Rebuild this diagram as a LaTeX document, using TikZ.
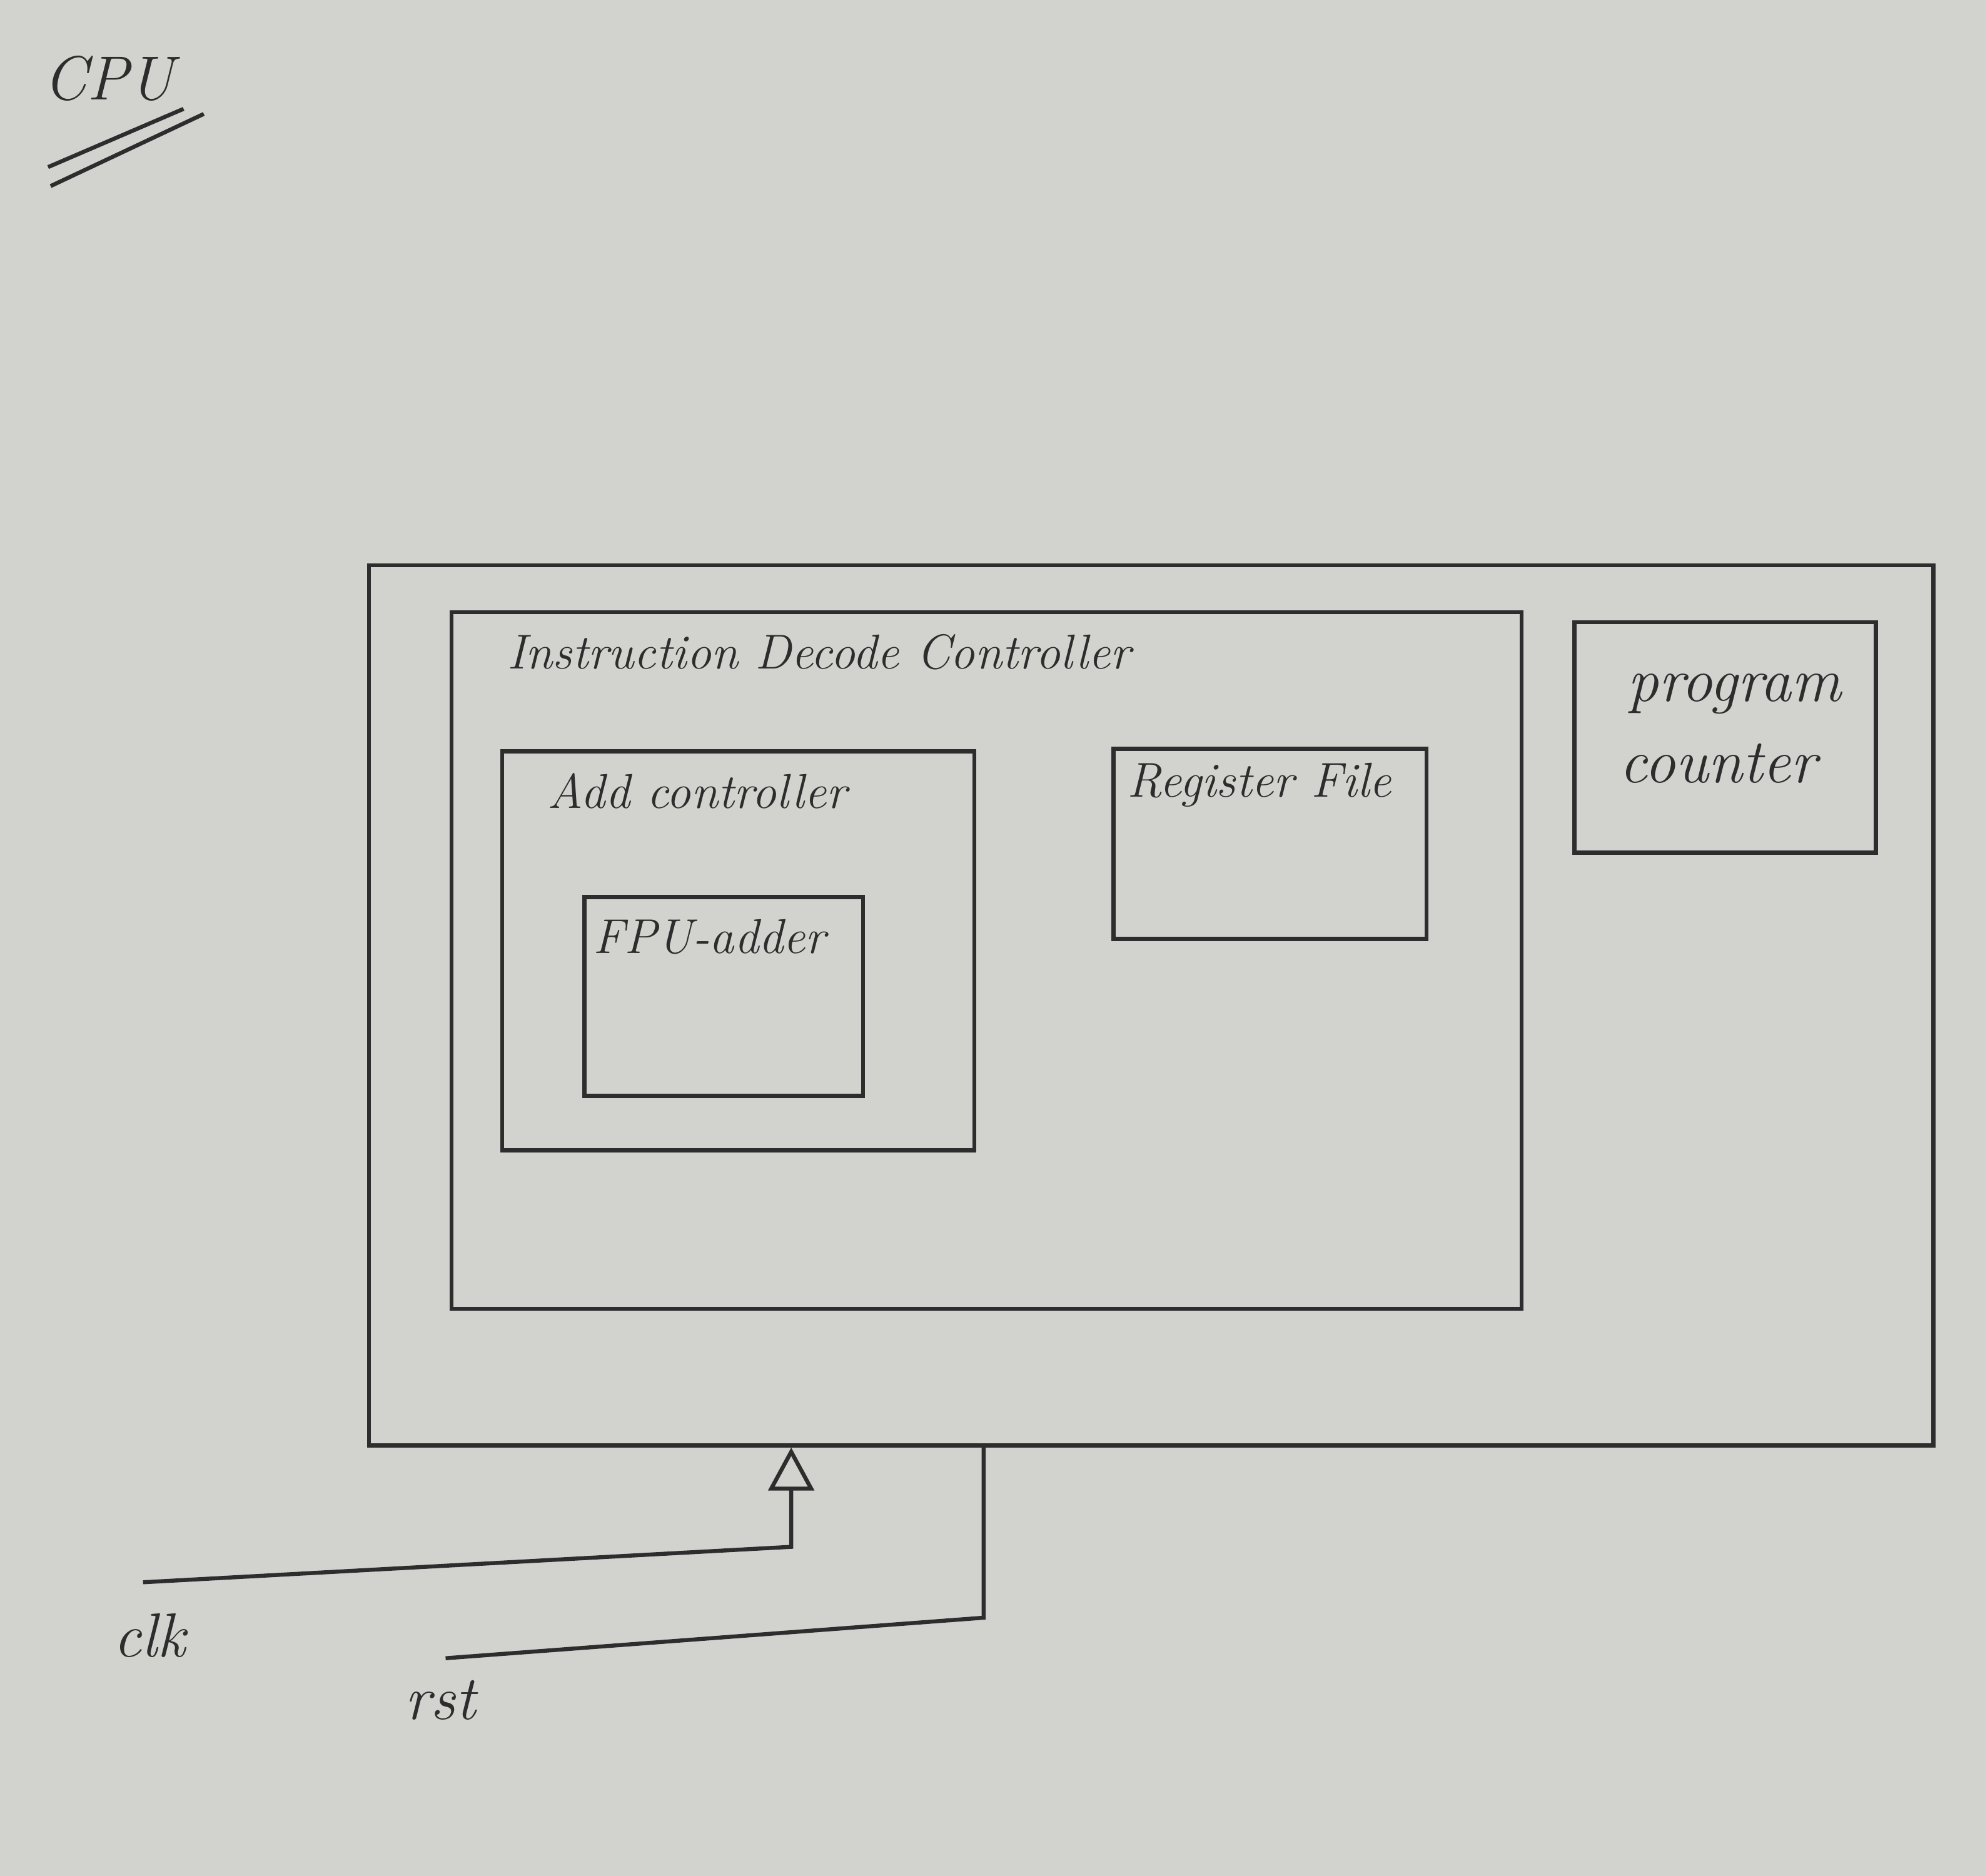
\documentclass[tikz,border=0pt]{standalone}
\usetikzlibrary{arrows.meta}
\definecolor{paper}{RGB}{210,210,207}
\definecolor{ink}{RGB}{45,45,45}
\tikzset{
  box/.style={draw=ink, line width=0.9pt, rectangle, anchor=north west, inner sep=0pt},
  lbl/.style={anchor=west, text=ink, inner sep=0pt, font=\fontsize{11}{13}\selectfont\itshape},
  big/.style={font=\fontsize{14}{16}\selectfont\itshape},
  wire/.style={draw=ink, line width=0.9pt}
}
\begin{document}
\begin{tikzpicture}[x=0.01cm, y=-0.01cm]
	\fill[paper] (0,0) rectangle (1568,1482);
	\useasboundingbox (0,0) rectangle (1568,1482);
	\node[lbl, big, anchor=center] (cputitle) at (86,62) {CPU};
	\draw[wire] (38,132) -- (145,86);
	\draw[wire] (40,147) -- (161,90);
	\node[box, minimum width=12.35cm, minimum height=6.95cm] (cpu) at (290,445) {};
	\node[box, minimum width=8.45cm, minimum height=5.5cm] (idc) at (355,482) {};
	\node[box, minimum width=3.73cm, minimum height=3.15cm] (add) at (395,592) {};
	\node[box, minimum width=2.2cm, minimum height=1.57cm] (fpu) at (460,707) {};
	\node[box, minimum width=2.47cm, minimum height=1.5cm] (reg) at (878,590) {};
	\node[box, minimum width=2.38cm, minimum height=1.82cm] (pc) at (1242,490) {};
	\node[lbl] (idclbl) at (400,515) {Instruction Decode Controller};
	\node[lbl] (addlbl) at (432,625) {Add controller};
	\node[lbl] (fpulbl) at (468,740) {FPU-adder};
	\node[lbl] (reglbl) at (890,620) {Register File};
	\node[lbl, big, anchor=center] (pclbl1) at (1370,548) {program};
	\node[lbl, big, anchor=center] (pclbl2) at (1357,603) {counter};
	\coordinate (clkin) at (113,1250);
	\coordinate (clkbend) at (625,1222);
	\coordinate (rstin) at (352,1310);
	\coordinate (rstbend) at (777,1278);
	\draw[wire, -{Triangle[open, length=0.34cm, width=0.36cm]}] (clkin) -- (clkbend) -- (clkbend |- cpu.south);
	\draw[wire] (rstin) -- (rstbend) -- (rstbend |- cpu.south);
	\node[lbl, big, anchor=center] (clklbl) at (118,1292) {clk};
	\node[lbl, big, anchor=center] (rstlbl) at (348,1343) {rst};
\end{tikzpicture}
\end{document}
